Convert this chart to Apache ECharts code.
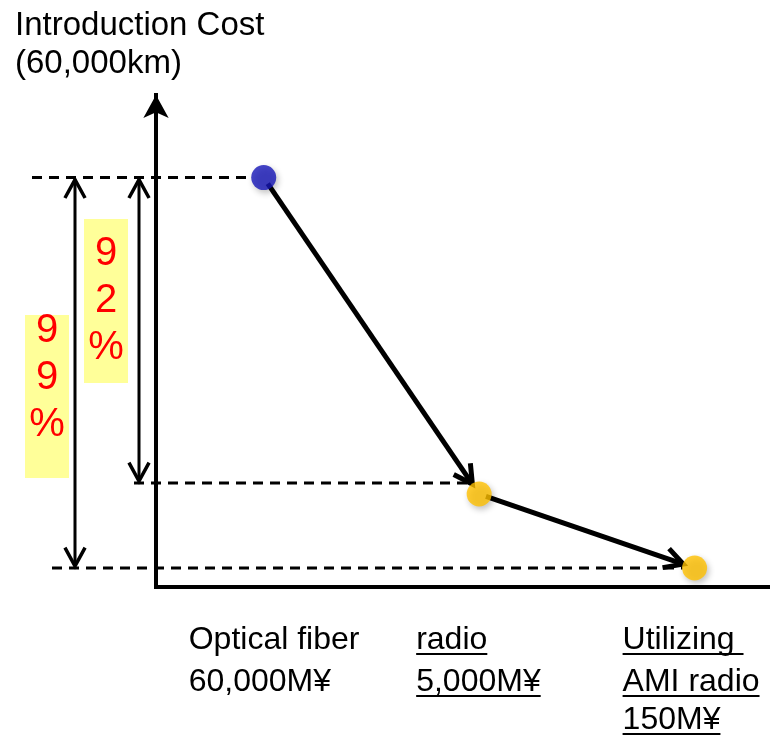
<!DOCTYPE html>
<html>
<head>
<meta charset="utf-8">
<script src="https://cdn.jsdelivr.net/npm/echarts@6/dist/echarts.min.js"></script>
<style>
  html, body { margin: 0; padding: 0; background: #fff; }
  #chart { width: 770px; height: 738px; }
</style>
</head>
<body>
<div id="chart"></div>
<script>
// Introduction cost of each option for a 60,000 km network (M¥)
const titleLines = ['Introduction Cost', '(60,000km)'];
const options = ['Optical fiber', 'radio', 'Utilizing AMI radio'];
const costs = [60000, 5000, 150];
const positions = [1, 2, 3];
const labelLines = [['Optical fiber', '60,000M¥'], ['radio', '5,000M¥'], ['Utilizing ', 'AMI radio', '150M¥']];
const underlined = [false, true, true];
const pointColors = ['#1616b8', '#ffc000', '#ffc000'];
// Reductions measured against the optical fiber cost
const reductionTargets = [2, 1];
const reductionLabels = ['99%', '92%'];

// The cost axis uses a power scale so the cheap options remain visible
const EXP = 0.632;
const scaled = v => Math.pow(v, EXP);

const FONT = '"Liberation Sans", Arial, sans-serif';
const R = 12;                       // marker radius
const guideLeft = [32, 134, 52];    // left end of each dashed guide
const guideLift = [0, 11, 0];       // guide sits on top of the marker for the middle option
const reductionX = [75, 139];
const reductionBoxes = [[25, 315, 44, 163], [84, 219, 44, 164]];
const reductionTextTop = [331, 254];
const labelShift = [-75, -63, -72];
const labelRows = [640, 682, 720];
const LABEL_SIZE = 32;

const measureCtx = document.createElement('canvas').getContext('2d');
measureCtx.font = LABEL_SIZE + 'px ' + FONT;

function chevron(tip, ux, uy, len, ang, w) {
  const c = Math.cos(ang), s = Math.sin(ang);
  const bx = -ux, by = -uy;
  const l = [tip[0] + len * (bx * c - by * s), tip[1] + len * (bx * s + by * c)];
  const r = [tip[0] + len * (bx * c + by * s), tip[1] + len * (-bx * s + by * c)];
  return {
    type: 'polyline',
    shape: { points: [l, tip, r] },
    style: { stroke: '#000', lineWidth: w, fill: null, lineJoin: 'miter' }
  };
}

const chart = echarts.init(document.getElementById('chart'));

const pointData = costs.map((c, i) => ({
  value: [positions[i], scaled(c)],
  itemStyle: { color: pointColors[i] }
}));
const linkData = costs.slice(0, -1).map((c, i) =>
  [positions[i], scaled(c), positions[i + 1], scaled(costs[i + 1])]);
const reductionData = reductionTargets.map(t =>
  [positions[0], scaled(costs[0]), positions[t], scaled(costs[t]), t]);

chart.setOption({
  animation: false,
  title: {
    text: titleLines.join('\n'),
    left: 10,
    top: 2,
    textStyle: { fontFamily: FONT, fontSize: 33, fontWeight: 'normal', color: '#000', lineHeight: 38 }
  },
  grid: { left: 156, right: 0, top: 95, bottom: 151 },
  xAxis: {
    type: 'value',
    min: 0.5,
    max: 3.35,
    axisLine: { onZero: false, lineStyle: { color: '#000', width: 4, cap: 'square' } },
    axisTick: { show: false },
    axisLabel: { show: false },
    splitLine: { show: false }
  },
  yAxis: {
    type: 'value',
    min: -26,
    max: 1263,
    axisLine: {
      show: true,
      onZero: false,
      symbol: ['none', 'arrow'],
      symbolSize: [19, 23],
      lineStyle: { color: '#000', width: 4, cap: 'square' }
    },
    axisTick: { show: false },
    axisLabel: { show: false },
    splitLine: { show: false }
  },
  series: [
    {
      name: 'guides',
      type: 'custom',
      clip: false,
      z: 1,
      data: costs.map((c, i) => [positions[i], scaled(c)]),
      renderItem: (params, api) => {
        const i = params.dataIndex;
        const p = api.coord([api.value(0), api.value(1)]);
        const y = p[1] - guideLift[i];
        return {
          type: 'line',
          shape: { x1: guideLeft[i], y1: y, x2: p[0] - R, y2: y },
          style: { stroke: '#000', lineWidth: 3, lineDash: [10, 7] }
        };
      }
    },
    {
      name: 'links',
      type: 'custom',
      clip: false,
      z: 2,
      data: linkData,
      renderItem: (params, api) => {
        const a = api.coord([api.value(0), api.value(1)]);
        const b = api.coord([api.value(2), api.value(3)]);
        const dx = b[0] - a[0], dy = b[1] - a[1];
        const len = Math.hypot(dx, dy), ux = dx / len, uy = dy / len;
        const s = [a[0] + ux * R * 0.6, a[1] + uy * R * 0.6];
        const e = [b[0] - ux * R, b[1] - uy * R];
        return {
          type: 'group',
          children: [
            { type: 'line', shape: { x1: s[0], y1: s[1], x2: e[0], y2: e[1] }, style: { stroke: '#000', lineWidth: 5 } },
            chevron(e, ux, uy, 21, 0.5, 5)
          ]
        };
      }
    },
    {
      name: 'cost',
      type: 'scatter',
      z: 5,
      symbolSize: 2 * R + 1,
      data: pointData,
      itemStyle: {
        shadowBlur: 6,
        shadowColor: 'rgba(0,0,0,0.3)',
        shadowOffsetX: 2,
        shadowOffsetY: 3
      }
    },
    {
      name: 'reductions',
      type: 'custom',
      clip: false,
      z: 3,
      data: reductionData,
      renderItem: (params, api) => {
        const i = params.dataIndex;
        const t = api.value(4);
        const top = api.coord([api.value(0), api.value(1)])[1] + 2;
        const bottom = api.coord([api.value(2), api.value(3)])[1] - guideLift[t] - 2;
        const x = reductionX[i];
        const box = reductionBoxes[i];
        const children = [
          { type: 'rect', shape: { x: box[0], y: box[1], width: box[2], height: box[3] }, style: { fill: '#ffff99' } },
          { type: 'line', shape: { x1: x, y1: top, x2: x, y2: bottom }, style: { stroke: '#000', lineWidth: 3 } },
          chevron([x, top], 0, -1, 21, 0.5, 3.5),
          chevron([x, bottom], 0, 1, 21, 0.5, 3.5)
        ];
        reductionLabels[i].split('').forEach((ch, k) => {
          children.push({
            type: 'text',
            style: {
              text: ch, x: box[0] + box[2] / 2, y: reductionTextTop[i] + k * 47,
              fill: '#ff0000', font: '40px ' + FONT, align: 'center', verticalAlign: 'middle'
            }
          });
        });
        return { type: 'group', children };
      }
    },
    {
      name: 'labels',
      type: 'custom',
      clip: false,
      z: 3,
      data: positions.map(p => [p, 0]),
      renderItem: (params, api) => {
        const i = params.dataIndex;
        const x = api.coord([api.value(0), 0])[0] + labelShift[i];
        const children = [];
        labelLines[i].forEach((line, k) => {
          const y = labelRows[k];
          children.push({
            type: 'text',
            style: { text: line, x, y, fill: '#000', font: LABEL_SIZE + 'px ' + FONT, align: 'left', verticalAlign: 'middle' }
          });
          if (underlined[i]) {
            const w = measureCtx.measureText(line).width;
            const uy = y + 14;
            children.push({
              type: 'line',
              shape: { x1: x, y1: uy, x2: x + w, y2: uy },
              style: { stroke: '#000', lineWidth: 2 }
            });
          }
        });
        return { type: 'group', children };
      }
    }
  ]
});
</script>
</body>
</html>
